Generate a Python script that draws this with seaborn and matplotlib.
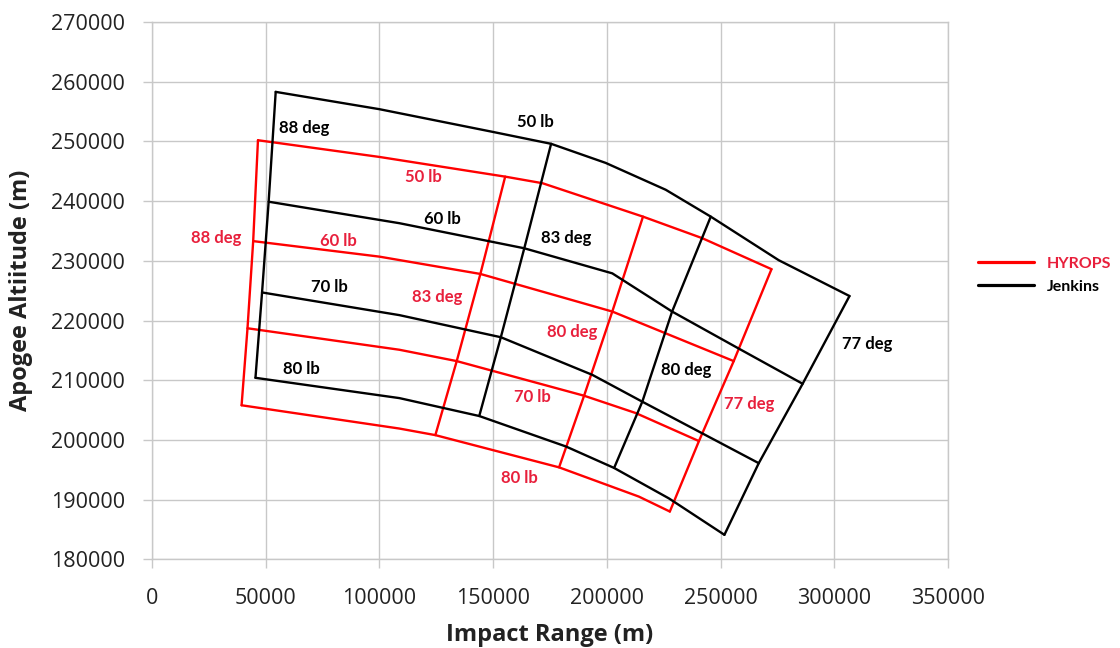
import matplotlib
matplotlib.use("Agg")
import matplotlib.pyplot as plt
from matplotlib.lines import Line2D
import seaborn as sns
import pandas as pd

# Launch-angle / payload grids: apogee altitude vs impact range
angles = [88, 83, 80, 77]          # deg
payloads = [50, 60, 70, 80]        # lb

# Jenkins grid nodes (rows = payload, columns = launch angle)
jenkins_range = [
    [54400, 175500, 245700, 306700],
    [51300, 163700, 228700, 286100],
    [48400, 153400, 215600, 266800],
    [45500, 143900, 203200, 251700],
]
jenkins_alt = [
    [258300, 249600, 237400, 224100],
    [239900, 232100, 221500, 209400],
    [224700, 217200, 206400, 196100],
    [210400, 204000, 195300, 184100],
]
# extra points along the constant-payload curves
jenkins_curve_range = [
    [100000, 149800, 199500, 225900, 275600],
    [108800, 202400, 258000],
    [108800, 193600],
    [108800, 182000, 227300],
]
jenkins_curve_alt = [
    [255400, 251600, 246400, 241900, 230100],
    [236300, 227900, 215300],
    [220900, 210900],
    [207000, 198900, 190200],
]

# HYROPS grid nodes
hyrops_range = [
    [46600, 155300, 215900, 272400],
    [44500, 144400, 202400, 255800],
    [42000, 134000, 190000, 240500],
    [39400, 124600, 179000, 227700],
]
hyrops_alt = [
    [250200, 244100, 237400, 228600],
    [233300, 227800, 221500, 213200],
    [218700, 213200, 207400, 199800],
    [205800, 200800, 195400, 188000],
]
hyrops_curve_range = [
    [100000, 171700, 241900],
    [100000],
    [108800, 212700],
    [108800, 214100],
]
hyrops_curve_alt = [
    [247400, 243000, 233800],
    [230700],
    [215100, 204500],
    [201900, 190500],
]

x_ticks = [0, 50000, 100000, 150000, 200000, 250000, 300000, 350000]
y_ticks = [180000, 190000, 200000, 210000, 220000, 230000, 240000, 250000, 260000, 270000]

LINE_RED = "#ff0000"
TEXT_RED = "#e8203c"
BLACK = "#000000"
GRID = "#c8c8c8"

sns.set_theme(style="white")
plt.rcParams["font.family"] = ["Open Sans", "DejaVu Sans"]

fig = plt.figure(figsize=(11.2, 6.48), dpi=100)
ax = fig.add_axes([0.1357, 0.1369, 0.7107, 0.8291])


def draw_grid(node_x, node_y, bend_x, bend_y, color):
    # constant-payload curves
    for i, p in enumerate(payloads):
        pts = sorted(list(zip(node_x[i], node_y[i])) + list(zip(bend_x[i], bend_y[i])))
        df = pd.DataFrame(pts, columns=["range", "alt"])
        sns.lineplot(data=df, x="range", y="alt", sort=False, estimator=None,
                     color=color, linewidth=1.7, ax=ax)
    # constant-angle lines
    for j, a in enumerate(angles):
        df = pd.DataFrame({"range": [row[j] for row in node_x],
                           "alt": [row[j] for row in node_y]})
        sns.lineplot(data=df, x="range", y="alt", sort=False, estimator=None,
                     color=color, linewidth=1.7, ax=ax)


draw_grid(hyrops_range, hyrops_alt, hyrops_curve_range, hyrops_curve_alt, LINE_RED)
draw_grid(jenkins_range, jenkins_alt, jenkins_curve_range, jenkins_curve_alt, BLACK)

# curve annotations
jenkins_notes = [
    ("88 deg", 67100, 252200), ("50 lb", 168500, 253200), ("60 lb", 127800, 237000),
    ("83 deg", 182000, 233800), ("70 lb", 78100, 225600), ("80 lb", 65700, 211800),
    ("80 deg", 234900, 211700), ("77 deg", 314300, 216000),
]
hyrops_notes = [
    ("88 deg", 28400, 233800), ("50 lb", 119500, 244100), ("60 lb", 82100, 233400),
    ("83 deg", 125600, 224000), ("80 deg", 184900, 218000), ("70 lb", 167300, 207200),
    ("80 lb", 161500, 193700), ("77 deg", 262700, 206000),
]
for txt, x, y in jenkins_notes:
    ax.text(x, y, txt, color=BLACK, fontsize=12, fontweight="bold",
            ha="center", va="center", family=["Lato", "DejaVu Sans"])
for txt, x, y in hyrops_notes:
    ax.text(x, y, txt, color=TEXT_RED, fontsize=12, fontweight="bold",
            ha="center", va="center", family=["Lato", "DejaVu Sans"])

ax.set_xlim(0, 350000)
ax.set_ylim(180000, 270000)
ax.set_xticks(x_ticks)
ax.set_yticks(y_ticks)
ax.set_xticklabels([str(v) for v in x_ticks])
ax.set_yticklabels([str(v) for v in y_ticks])
ax.grid(True, color=GRID, linewidth=1.0)
ax.set_axisbelow(True)
for s in ax.spines.values():
    s.set_color(GRID)
    s.set_linewidth(1.0)
ax.tick_params(axis="both", which="major", direction="out", length=6.3, width=1.0,
               color=GRID, labelsize=15.5, labelcolor="#222222")
ax.tick_params(axis="x", pad=14.4)
ax.tick_params(axis="y", pad=13.2)
ax.tick_params(bottom=True, left=True)

ax.set_xlabel("Impact Range (m)", fontsize=17, fontweight="bold", color="#222222")
ax.set_ylabel("Apogee Altiitude (m)", fontsize=17, fontweight="bold", color="#222222")
ax.xaxis.set_label_coords(0.5, -0.118)
ax.yaxis.set_label_coords(-0.1495, 0.5)

handles = [Line2D([0], [0], color=LINE_RED, linewidth=2.3),
           Line2D([0], [0], color=BLACK, linewidth=2.3)]
leg = fig.legend(handles, ["HYROPS", "Jenkins"], loc="center left",
                 bbox_to_anchor=(0.873, 0.5756), frameon=False,
                 borderpad=0, borderaxespad=0,
                 handlelength=3.5, handletextpad=0.8, labelspacing=0.55,
                 prop={"weight": "bold", "family": ["Lato", "DejaVu Sans"], "size": 11.5})
leg.get_texts()[0].set_color(TEXT_RED)
leg.get_texts()[1].set_color(BLACK)

fig.savefig("out.png", dpi=100, facecolor="white")
